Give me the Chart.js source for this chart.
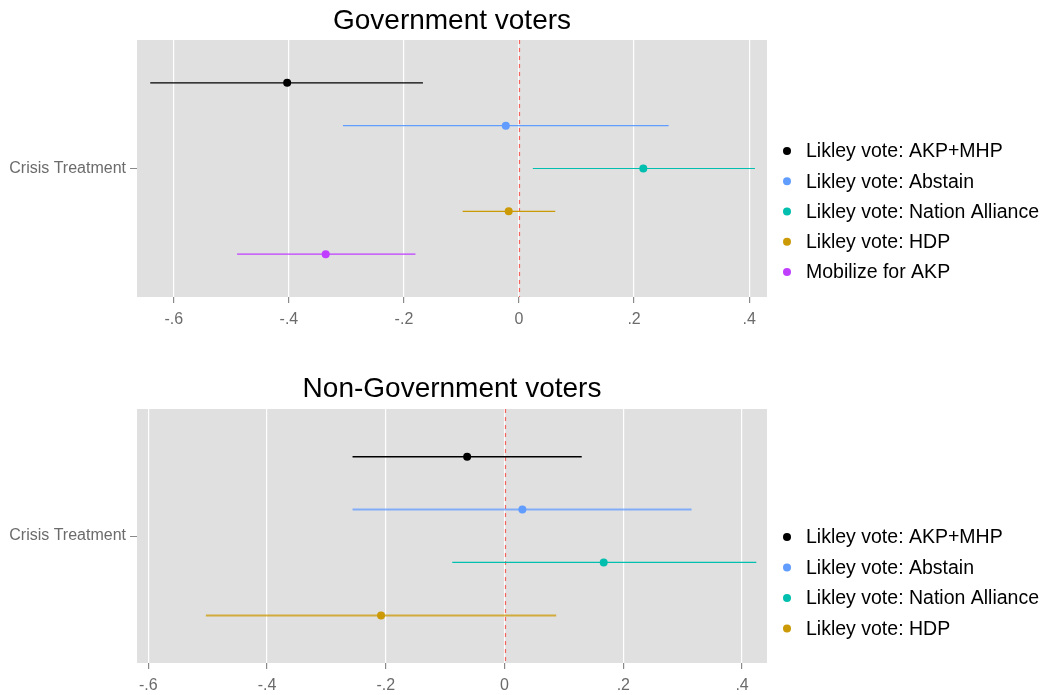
<!DOCTYPE html>
<html>
<head>
<meta charset="utf-8">
<script src="https://cdn.jsdelivr.net/npm/chart.js@4/dist/chart.umd.min.js"></script>
<style>
  html, body { margin: 0; padding: 0; background: #ffffff; }
  .panel { position: relative; width: 1048px; }
  canvas { display: block; }
</style>
</head>
<body>
<div class="panel" style="height:347px"><canvas id="gov" width="1048" height="347"></canvas></div>
<div class="panel" style="height:348px"><canvas id="nongov" width="1048" height="348"></canvas></div>
<script>
// Shared axis content
const rowLabel = 'Crisis Treatment';
const xTicks = [-0.6, -0.4, -0.2, 0, 0.2, 0.4];

// Government voters: point estimates with 95% intervals
const govTitle = 'Government voters';
const govGroups = ['Likley vote: AKP+MHP', 'Likley vote: Abstain', 'Likley vote: Nation Alliance', 'Likley vote: HDP', 'Mobilize for AKP'];
const govEstimate = [-0.403, -0.023, 0.216, -0.018, -0.336];
const govLower = [-0.641, -0.306, 0.024, -0.098, -0.490];
const govUpper = [-0.167, 0.260, 0.410, 0.063, -0.180];

// Non-government voters
const nonGovTitle = 'Non-Government voters';
const nonGovGroups = ['Likley vote: AKP+MHP', 'Likley vote: Abstain', 'Likley vote: Nation Alliance', 'Likley vote: HDP'];
const nonGovEstimate = [-0.063, 0.030, 0.167, -0.208];
const nonGovLower = [-0.256, -0.256, -0.088, -0.503];
const nonGovUpper = [0.130, 0.315, 0.424, 0.087];

// Styling
const groupColors = ['#000000', '#619CFF', '#00BFAE', '#CC9A06', '#BF3EFF'];
const FONT = "'Liberation Sans', Arial, Helvetica, sans-serif";

function fmtTick(v) {
  if (Math.abs(v) < 1e-9) return '0';
  return (v < 0 ? '-' : '') + String(Math.abs(v)).replace(/^0/, '');
}

function withAlpha(hex, a) {
  const n = parseInt(hex.slice(1), 16);
  return `rgba(${(n >> 16) & 255},${(n >> 8) & 255},${n & 255},${a})`;
}

const panelPlugin = {
  id: 'panel',
  beforeDraw(chart) {
    const { ctx, chartArea: a } = chart;
    ctx.save();
    ctx.fillStyle = '#E0E0E0';
    ctx.fillRect(a.left, a.top, a.right - a.left, a.bottom - a.top);
    ctx.restore();
  },
  beforeDatasetsDraw(chart) {
    // dashed reference line at zero
    const { ctx, chartArea: a, scales } = chart;
    const x = Math.round(scales.x.getPixelForValue(0)) + 0.5;
    ctx.save();
    ctx.strokeStyle = '#F0655E';
    ctx.lineWidth = 1.2;
    ctx.setLineDash([4, 4]);
    ctx.beginPath();
    ctx.moveTo(x, a.top);
    ctx.lineTo(x, a.bottom);
    ctx.stroke();
    ctx.restore();
  },
  afterDraw(chart, args, opts) {
    const { ctx, chartArea: a } = chart;
    ctx.save();
    // title centred over the panel
    ctx.fillStyle = '#000';
    ctx.font = `28px ${FONT}`;
    ctx.textAlign = 'center';
    ctx.textBaseline = 'middle';
    ctx.fillText(opts.title, (a.left + a.right) / 2, opts.titleY);
    // legend
    ctx.font = `19.5px ${FONT}`;
    ctx.textAlign = 'left';
    opts.groups.forEach((g, i) => {
      const y = opts.legendY + i * opts.legendStep;
      ctx.fillStyle = groupColors[i];
      ctx.beginPath();
      ctx.arc(787, y, 4, 0, Math.PI * 2);
      ctx.fill();
      ctx.fillStyle = '#000';
      ctx.fillText(g, 806, y + 1);
    });
    ctx.restore();
  }
};

function buildChart(id, cfg) {
  const n = cfg.groups.length;
  const datasets = cfg.groups.map((g, k) => {
    const y = 1 + ((n - 1) / 2 - k) / n; // dodged row position
    const w = cfg.lineWidths[k];
    return {
      label: g,
      data: [
        { x: cfg.lower[k], y },
        { x: cfg.estimate[k], y },
        { x: cfg.upper[k], y }
      ],
      borderColor: w > 1.5 ? withAlpha(groupColors[k], 0.75) : groupColors[k],
      borderWidth: w,
      backgroundColor: groupColors[k],
      pointBackgroundColor: groupColors[k],
      pointBorderWidth: 0,
      pointRadius: (c) => (c.dataIndex === 1 ? 4 : 0),
      pointHoverRadius: (c) => (c.dataIndex === 1 ? 4 : 0),
      showLine: true,
      fill: false,
      tension: 0
    };
  });

  return new Chart(document.getElementById(id), {
    type: 'scatter',
    data: { datasets },
    options: {
      responsive: false,
      animation: false,
      layout: { padding: { top: cfg.padTop, right: 281, left: 0, bottom: 0 } },
      plugins: {
        legend: { display: false },
        tooltip: { enabled: false },
        panel: { title: cfg.title, titleY: cfg.titleY, groups: cfg.groups, legendY: cfg.legendY, legendStep: cfg.legendStep }
      },
      scales: {
        x: {
          type: 'linear',
          min: cfg.xMin,
          max: cfg.xMax,
          afterBuildTicks: (s) => { s.ticks = xTicks.map((v) => ({ value: v })); },
          afterFit: (s) => { s.height = cfg.xAxisHeight; },
          ticks: {
            autoSkip: false,
            maxRotation: 0,
            padding: 7,
            color: '#6b6b6b',
            font: { family: FONT, size: 16 },
            callback: (v) => fmtTick(v)
          },
          grid: { color: '#FFFFFF', lineWidth: 1.2, tickColor: '#8a8a8a', tickLength: 6 },
          border: { display: false }
        },
        y: {
          type: 'linear',
          min: 0.4,
          max: 1.6,
          afterBuildTicks: (s) => { s.ticks = [{ value: 1 }]; },
          afterFit: (s) => { s.width = 137; },
          ticks: {
            autoSkip: false,
            padding: 4,
            color: '#6b6b6b',
            font: { family: FONT, size: 16 },
            callback: () => rowLabel
          },
          grid: { drawOnChartArea: false, tickColor: '#8a8a8a', tickLength: 7 },
          border: { display: false }
        }
      }
    },
    plugins: [panelPlugin]
  });
}

buildChart('gov', {
  title: govTitle, groups: govGroups, estimate: govEstimate, lower: govLower, upper: govUpper,
  lineWidths: [1.2, 1.2, 1.2, 1.2, 1.2],
  xMin: -0.664, xMax: 0.431, padTop: 40, xAxisHeight: 50, titleY: 21,
  legendY: 151, legendStep: 30.25
});

buildChart('nongov', {
  title: nonGovTitle, groups: nonGovGroups, estimate: nonGovEstimate, lower: nonGovLower, upper: nonGovUpper,
  lineWidths: [1.5, 2, 1.2, 2],
  xMin: -0.619, xMax: 0.442, padTop: 62, xAxisHeight: 32, titleY: 42,
  legendY: 190, legendStep: 30.5
});
</script>
</body>
</html>
